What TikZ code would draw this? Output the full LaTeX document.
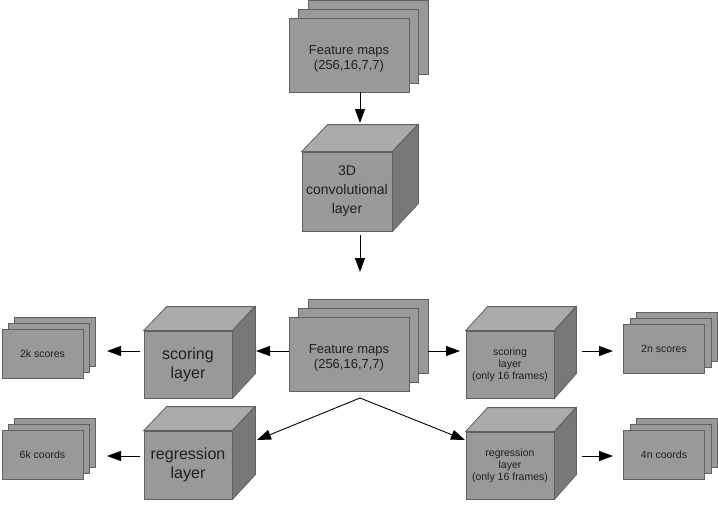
\documentclass[tikz,border=0pt]{standalone}
\usepackage{fontspec}
\setmainfont{Liberation Sans}
\usetikzlibrary{arrows.meta}

\definecolor{facegray}{rgb}{0.6,0.6,0.6}
\definecolor{topgray}{rgb}{0.67,0.67,0.67}
\definecolor{sidegray}{rgb}{0.47,0.47,0.47}
\definecolor{edgegray}{rgb}{0.38,0.38,0.38}
\definecolor{inkgray}{rgb}{0.12,0.12,0.12}

\tikzset{
  sheet/.style={draw=edgegray, fill=facegray, line width=0.8pt, inner sep=0pt, align=center, text=inkgray,
    minimum width=120pt, minimum height=74pt, font=\fontsize{13}{15.5}\selectfont},
  sheettext/.style={inner sep=0pt, align=center, text=inkgray, font=\fontsize{13}{15.5}\selectfont},
  card/.style={sheet, minimum width=81pt, minimum height=49pt, font=\fontsize{10.5}{12.5}\selectfont},
  cubefront/.style={draw=edgegray, fill=facegray, line width=0.8pt, inner sep=0pt, align=center, text=inkgray,
    minimum width=88pt, minimum height=67pt},
  topface/.style={draw=edgegray, fill=topgray, line width=0.8pt},
  sideface/.style={draw=edgegray, fill=sidegray, line width=0.8pt},
  bigtext/.style={font=\fontsize{16}{19}\selectfont},
  smalltext/.style={font=\fontsize{10.5}{12}\selectfont},
  arr/.style={-{Triangle[length=14pt,width=10pt]}, line width=0.9pt}
}

\begin{document}
\begin{tikzpicture}[x=1pt, y=-1pt]
            \useasboundingbox (0,0) rectangle (718,504);

            % feature maps, top
            \node[sheet] (fmtop3) at (368,37) {};
            \node[sheet] (fmtop2) at (358.5,46) {};
            \node[sheet] (fmtop) at (349,55) {};
            \node[sheettext] (fmtoptext) at ([yshift=-4pt]fmtop.center) {Feature maps\\(256,16,7,7)};

            % 3D convolutional layer
            \node[cubefront, minimum width=90pt, minimum height=79pt, font=\fontsize{14}{19}\selectfont] (conv) at (347,191.5) {3D\\convolutional\\layer};
            \filldraw[topface] (conv.north west) -- ++(26,-27) -- ++(90,0) -- (conv.north east) -- cycle;
            \filldraw[sideface] (conv.north east) -- ++(26,-27) -- ++(0,79) -- (conv.south east) -- cycle;

            % feature maps, middle
            \node[sheet] (fmmid3) at (368,336) {};
            \node[sheet] (fmmid2) at (358.5,345) {};
            \node[sheet] (fmmid) at (349,354) {};
            \node[sheettext] (fmmidtext) at ([yshift=-4pt]fmmid.center) {Feature maps\\(256,16,7,7)};

            % left cubes
            \node[cubefront, bigtext] (sleft) at (188,364.5) {scoring\\layer};
            \filldraw[topface] (sleft.north west) -- ++(23,-24) -- ++(88,0) -- (sleft.north east) -- cycle;
            \filldraw[sideface] (sleft.north east) -- ++(23,-24) -- ++(0,67) -- (sleft.south east) -- cycle;

            \node[cubefront, bigtext, minimum height=68pt] (rleft) at (188,465) {regression\\layer};
            \filldraw[topface] (rleft.north west) -- ++(23,-24) -- ++(88,0) -- (rleft.north east) -- cycle;
            \filldraw[sideface] (rleft.north east) -- ++(23,-24) -- ++(0,68) -- (rleft.south east) -- cycle;

            % right cubes
            \node[cubefront, smalltext] (sright) at (510,364.5) {scoring\\layer\\(only 16 frames)};
            \filldraw[topface] (sright.north west) -- ++(22,-24) -- ++(88,0) -- (sright.north east) -- cycle;
            \filldraw[sideface] (sright.north east) -- ++(22,-24) -- ++(0,67) -- (sright.south east) -- cycle;

            \node[cubefront, smalltext] (rright) at (510,465.5) {regression\\layer\\(only 16 frames)};
            \filldraw[topface] (rright.north west) -- ++(22,-24) -- ++(88,0) -- (rright.north east) -- cycle;
            \filldraw[sideface] (rright.north east) -- ++(22,-24) -- ++(0,67) -- (rright.south east) -- cycle;

            % outputs
            \node[card] (sk3) at (54.5,341.5) {};
            \node[card] (sk2) at (48.5,347.5) {};
            \node[card] (sk) at (42.5,353.5) {2k scores};
            \node[card] (ck3) at (54.5,442.5) {};
            \node[card] (ck2) at (48.5,448.5) {};
            \node[card] (ck) at (42.5,454.5) {6k coords};
            \node[card] (sn3) at (677,336.5) {};
            \node[card] (sn2) at (670.5,342.5) {};
            \node[card] (sn) at (664,348.5) {2n scores};
            \node[card] (cn3) at (677,442.5) {};
            \node[card] (cn2) at (670.5,448.5) {};
            \node[card] (cn) at (664,454.5) {4n coords};

            % arrows
            \coordinate (convin) at (360,123);
            \coordinate (fmin) at (360,272);
            \coordinate (slin) at (256,351);
            \coordinate (srin) at (460,351);
            \coordinate (split) at (360,398);
            \coordinate (rlin) at (257,440);
            \coordinate (rrin) at (465,440);
            \coordinate (skin) at (107,351);
            \coordinate (ckin) at (107,456);
            \coordinate (snin) at (613,351);
            \coordinate (cnin) at (613,456);

            \draw[arr] (fmtop.south -| convin) -- (convin);
            \draw[arr] ([yshift=-4pt]conv.south -| fmin) -- (fmin);
            \draw[arr] (fmmid.west |- slin) -- (slin);
            \draw[arr] (fmmid3.east |- srin) -- (srin);
            \draw[arr] (split) -- (rlin);
            \draw[arr] (split) -- (rrin);
            \draw[arr] ([xshift=-4pt]sleft.west |- skin) -- (skin);
            \draw[arr] ([xshift=-4pt]rleft.west |- ckin) -- (ckin);
            \draw[arr] ([xshift=28pt]sright.east |- snin) -- (snin);
            \draw[arr] ([xshift=28pt]rright.east |- cnin) -- (cnin);
        \end{tikzpicture}
\end{document}
